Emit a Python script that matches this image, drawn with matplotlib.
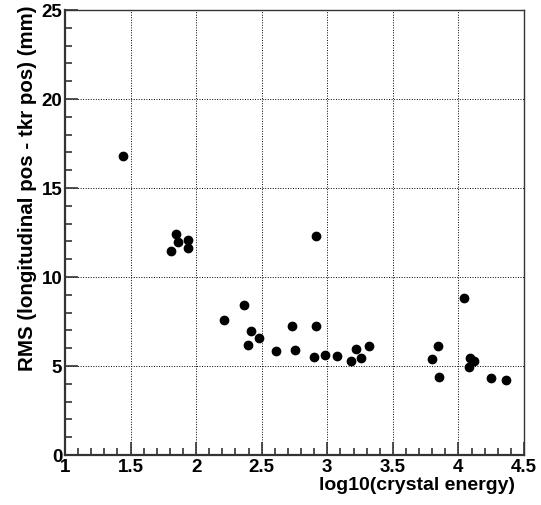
import numpy as np
import matplotlib
matplotlib.use("Agg")
import matplotlib.pyplot as plt
from matplotlib.ticker import MultipleLocator

# log10 of crystal energy vs RMS of (longitudinal pos - tkr pos)
log_energy = [1.442, 1.844, 1.864, 1.938, 1.938, 1.809,
              2.213, 2.365, 2.421, 2.477, 2.396, 2.607, 2.734, 2.754,
              2.917, 2.899, 2.983, 2.917,
              3.072, 3.182, 3.220, 3.258, 3.321,
              4.046, 3.845, 3.797, 3.853, 4.089, 4.120, 4.081, 4.247, 4.364]
rms_mm = [16.78, 12.40, 11.98, 12.08, 11.65, 11.46,
          7.60, 8.41, 6.98, 6.59, 6.16, 5.82, 7.25, 5.92,
          7.25, 5.51, 5.62, 12.30,
          5.56, 5.30, 5.94, 5.45, 6.12,
          8.80, 6.12, 5.37, 4.40, 5.47, 5.30, 4.93, 4.34, 4.21]

x_range = (1.0, 4.5)
y_range = (0, 25)

plt.rcParams['font.family'] = ['Liberation Sans', 'DejaVu Sans']
plt.rcParams['font.weight'] = 'bold'

fig = plt.figure(figsize=(5.41, 5.05), dpi=100)
ax = fig.add_axes([0.1201, 0.099, 0.8485, 0.881])

ax.plot(log_energy, rms_mm, 'o', color='black', markersize=6, zorder=3)

ax.set_xlim(*x_range)
ax.set_ylim(*y_range)

ax.xaxis.set_major_locator(MultipleLocator(0.5))
ax.xaxis.set_minor_locator(MultipleLocator(0.1))
ax.yaxis.set_major_locator(MultipleLocator(5))
ax.yaxis.set_minor_locator(MultipleLocator(1))

ax.tick_params(which='both', direction='in', top=False, right=False,
               color='#333333', width=1.2)
ax.tick_params(which='major', length=9.5, labelsize=13.5, pad=2)
ax.tick_params(which='minor', length=5)
ax.tick_params(axis='x', which='major', pad=3)

ax.xaxis.set_major_formatter(plt.FuncFormatter(lambda v, p: f"{v:g}"))

ax.grid(True, which='major', color='black', linestyle=(0, (1, 1.6)), linewidth=0.7)

for side in ['left', 'bottom']:
    ax.spines[side].set_linewidth(1.6)
    ax.spines[side].set_color('#333333')
for side in ['top', 'right']:
    ax.spines[side].set_linewidth(1.0)
    ax.spines[side].set_color('#333333')

ax.set_xlabel('log10(crystal energy)', fontsize=14, fontweight='bold', loc='right')
ax.xaxis.set_label_coords(0.98, -0.05)
ax.set_ylabel('RMS (longitudinal pos - tkr pos) (mm)', fontsize=14.8,
              fontweight='bold', loc='top')
ax.yaxis.set_label_coords(-0.06, 1.01)

fig.savefig('out.png', dpi=100)
